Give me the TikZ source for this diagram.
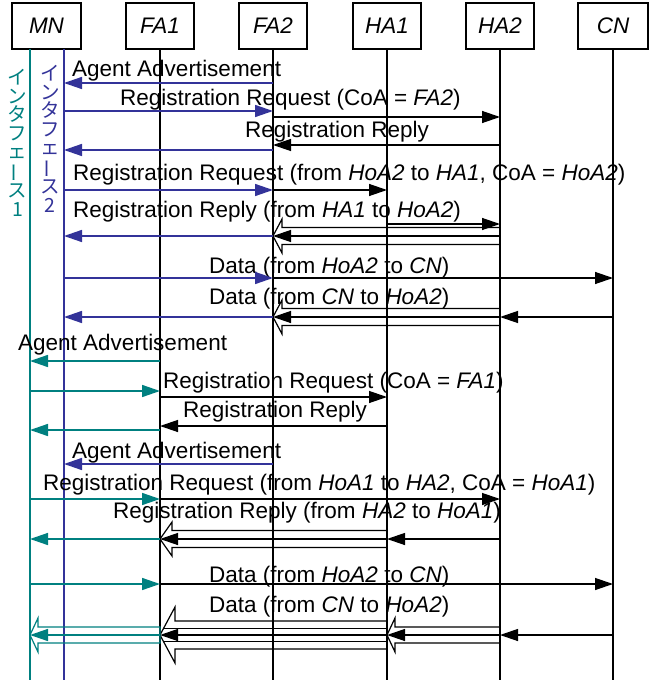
\documentclass[tikz,border=0pt]{standalone}
\usepackage{fontspec}
\setmainfont{Liberation Sans}
\newfontfamily\jpfont{Noto Sans CJK JP}
\usetikzlibrary{arrows.meta}
\definecolor{mblue}{RGB}{51,51,153}
\definecolor{mteal}{RGB}{0,128,128}
% hollow (tunnel) arrow pointing left: #2 right x, #3 tip x, #4 y, #5 half width, #6 head half height, #7 head length
\newcommand\hollowL[7][]{%
  \draw[tun,#1] ({#2},{#4-#5}) -- ({#3+#7},{#4-#5}) -- ({#3+#7},{#4-#6}) -- ({#3},{#4})
    -- ({#3+#7},{#4+#6}) -- ({#3+#7},{#4+#5}) -- ({#2},{#4+#5});}
\begin{document}
\begin{tikzpicture}[x=1pt,y=-1pt,
  hdr/.style={draw, line width=1.2pt, minimum width=68pt, minimum height=46pt, inner sep=0pt,
    font=\fontsize{22.5}{27}\selectfont\itshape},
  life/.style={line width=1.2pt},
  lbl/.style={inner sep=0pt, anchor=base west, font=\fontsize{22.5}{27}\selectfont},
  tipa/.style={-{Triangle[length=18pt,width=12pt]}},
  barr/.style={tipa, line width=1.3pt, black},
  bluearr/.style={tipa, line width=1.5pt, mblue},
  tealarr/.style={tipa, line width=1.5pt, mteal},
  tun/.style={line width=1.2pt, black},
  vtext/.style={inner sep=0pt, anchor=north, align=center, font=\jpfont\fontsize{19.5}{18.6}\selectfont},
]
\useasboundingbox (0,0) rectangle (651,682);

% headers
\node[hdr, minimum width=69pt] (mn) at (46.5,26) {MN};
\node[hdr] (fa1) at (160,26) {FA1};
\node[hdr] (fa2) at (273,26) {FA2};
\node[hdr] (ha1) at (387,26) {HA1};
\node[hdr] (ha2) at (500,26) {HA2};
\node[hdr, minimum width=70pt] (cn) at (613,26) {CN};
\coordinate (mnT) at (30,49);
\coordinate (mnB) at (64,49);

% lifelines
\draw[life, mteal] (mnT) -- (mnT |- 0,680);
\draw[life, mblue] (mnB) -- (mnB |- 0,680);
\foreach \n in {fa1,fa2,ha1,ha2,cn} \draw[life] (\n.south) -- (\n.south |- 0,680);

% interface labels
\node[vtext, text=mteal] (if1) at (17.5,69) {イ\\ン\\タ\\フ\\ェ\\\rotatebox[origin=c]{90}{ー}\\ス\\1};
\node[vtext, text=mblue] (if2) at (50,65) {イ\\ン\\タ\\フ\\ェ\\\rotatebox[origin=c]{90}{ー}\\ス\\2};

% labels
\node[lbl] (t1) at (72,77) {Agent Advertisement};
\node[lbl] (t2) at (120,106) {Registration Request (CoA = \textit{FA2})};
\node[lbl] (t3) at (245,138) {Registration Reply};
\node[lbl] (t4) at (73,180) {Registration Request (from \textit{HoA2} to \textit{HA1}, CoA = \textit{HoA2})};
\node[lbl] (t5) at (73,217) {Registration Reply (from \textit{HA1} to \textit{HoA2})};
\node[lbl] (t6) at (209,273) {Data (from \textit{HoA2} to \textit{CN})};
\node[lbl] (t7) at (209,304) {Data (from \textit{CN} to \textit{HoA2})};
\node[lbl] (t8) at (18,350) {Agent Advertisement};
\node[lbl] (t9) at (163,388) {Registration Request (CoA = \textit{FA1})};
\node[lbl] (t10) at (183,417) {Registration Reply};
\node[lbl] (t11) at (72,458) {Agent Advertisement};
\node[lbl] (t12) at (43,490) {Registration Request (from \textit{HoA1} to \textit{HA2}, CoA = \textit{HoA1})};
\node[lbl] (t13) at (113,518) {Registration Reply (from \textit{HA2} to \textit{HoA1})};
\node[lbl] (t14) at (209,582) {Data (from \textit{HoA2} to \textit{CN})};
\node[lbl] (t15) at (209,612) {Data (from \textit{CN} to \textit{HoA2})};

% 1
\draw[bluearr] (fa2 |- 0,83) -- (mnB |- 0,83);
% 2
\draw[bluearr] (mnB |- 0,111) -- (fa2 |- 0,111);
\draw[barr] (fa2 |- 0,117) -- (ha2 |- 0,117);
% 3
\draw[barr] (ha2 |- 0,145) -- (fa2 |- 0,145);
\draw[bluearr] (fa2 |- 0,150) -- (mnB |- 0,150);
% 4
\draw[bluearr] (mnB |- 0,190) -- (fa2 |- 0,190);
\draw[barr] (fa2 |- 0,190) -- (ha1 |- 0,190);
% 5
\draw[barr] (ha1 |- 0,224) -- (ha2 |- 0,224);
\hollowL{500}{273}{236}{8.5}{17}{9}
\draw[barr] (ha2 |- 0,236) -- (fa2 |- 0,236);
\draw[bluearr] (fa2 |- 0,236) -- (mnB |- 0,236);
% 6
\draw[bluearr] (mnB |- 0,278) -- (fa2 |- 0,278);
\draw[barr] (fa2 |- 0,278) -- (cn |- 0,278);
% 7
\draw[barr] (cn |- 0,317) -- (ha2 |- 0,317);
\hollowL{500}{273}{317}{8.5}{17}{9}
\draw[barr] (ha2 |- 0,317) -- (fa2 |- 0,317);
\draw[bluearr] (fa2 |- 0,317) -- (mnB |- 0,317);
% 8
\draw[tealarr] (fa1 |- 0,361) -- (mnT |- 0,361);
% 9
\draw[tealarr] (mnT |- 0,391) -- (fa1 |- 0,391);
\draw[barr] (fa1 |- 0,397) -- (ha1 |- 0,397);
% 10
\draw[barr] (ha1 |- 0,426) -- (fa1 |- 0,426);
\draw[tealarr] (fa1 |- 0,430) -- (mnT |- 0,430);
% 11
\draw[bluearr] (fa2 |- 0,464) -- (mnB |- 0,464);
% 12
\draw[tealarr] (mnT |- 0,499) -- (fa1 |- 0,499);
\draw[barr] (fa1 |- 0,499) -- (ha2 |- 0,499);
% 13
\draw[barr] (ha2 |- 0,539) -- (ha1 |- 0,539);
\hollowL{387}{160}{539}{8.5}{17}{12}
\draw[barr] (ha1 |- 0,539) -- (fa1 |- 0,539);
\draw[tealarr] (fa1 |- 0,539) -- (mnT |- 0,539);
% 14
\draw[tealarr] (mnT |- 0,584) -- (fa1 |- 0,584);
\draw[barr] (fa1 |- 0,584) -- (cn |- 0,584);
% 15
\draw[barr] (cn |- 0,635) -- (ha2 |- 0,635);
\hollowL{500}{387}{635}{8}{17}{8}
\draw[barr] (ha2 |- 0,635) -- (ha1 |- 0,635);
\hollowL{387}{160}{635}{14}{28}{15}
\draw[tun] (387,628.5) -- (163.5,628.5);
\draw[tun] (387,641.5) -- (163.5,641.5);
\draw[barr] (ha1 |- 0,635) -- (fa1 |- 0,635);
\draw[tun, mteal] (160,627) -- (38,627) -- (38,618) -- (30,635) -- (38,652) -- (38,643) -- (160,643) -- cycle;
\draw[tealarr] (fa1 |- 0,635) -- (mnT |- 0,635);
\end{tikzpicture}
\end{document}
